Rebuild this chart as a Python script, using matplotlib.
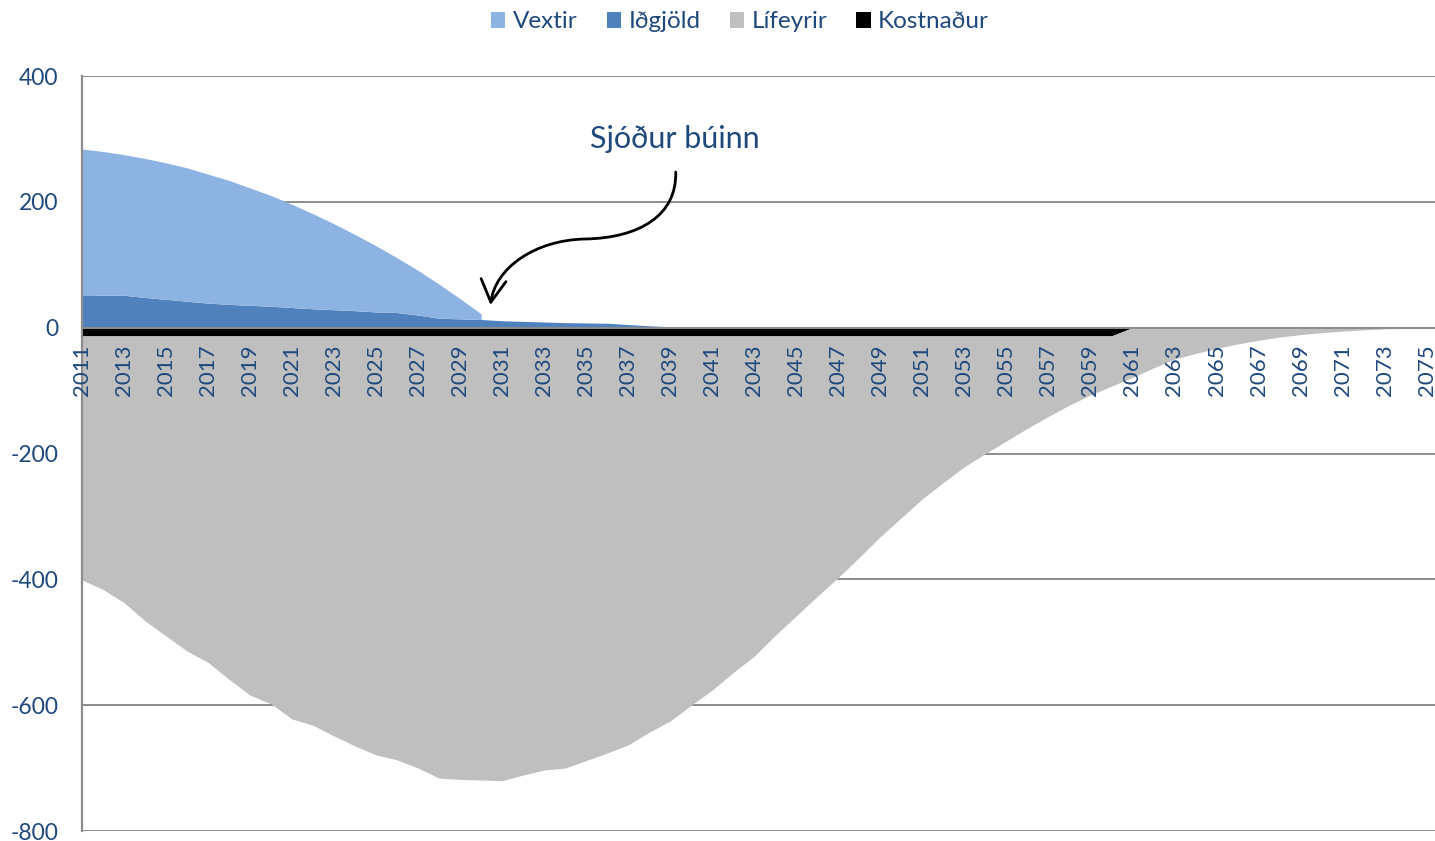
import matplotlib
matplotlib.use("Agg")
import matplotlib.pyplot as plt
from matplotlib.patches import Patch, FancyArrowPatch
from matplotlib.path import Path

plt.rcParams['font.family'] = ['Lato', 'DejaVu Sans']

# ---------------- data ----------------
years = list(range(2011, 2076))
years_vextir = list(range(2011, 2031))

vextir = [233, 228.5, 223.5, 221, 217, 212, 205, 197, 186.5, 176,
          164, 151, 136.5, 121, 105, 87, 71, 54, 32, 9]

idgjold = [51, 51.5, 51.5, 48, 45, 42, 39, 37, 35.5, 34,
           32, 30, 28.5, 27, 25, 24, 20, 15, 14, 13,
           11, 10, 9, 8, 7.5, 7, 5, 3, 1.5, 0.5,
           0, 0, 0, 0, 0, 0, 0, 0, 0, 0,
           0, 0, 0, 0, 0, 0, 0, 0, 0, 0,
           0, 0, 0, 0, 0, 0, 0, 0, 0, 0,
           0, 0, 0, 0, 0]

kostnadur = [-13] * 50 + [0] * 15

lifeyrir = [-388, -403, -424, -453, -477, -501, -519, -546, -571, -585,
            -609, -619, -636, -652, -666, -674, -687, -703, -705, -706,
            -707, -698, -690, -687, -675, -663, -650, -630, -612, -587,
            -563, -535, -509, -476, -445, -414, -384, -352, -319, -289,
            -259, -233, -208, -187, -167, -147, -128, -110, -94, -80,
            -79, -64, -50, -41, -33, -26, -20, -15, -11, -8,
            -5.5, -3.5, -2, -1, 0]

series_names = ["Vextir", "Iðgjöld", "Lífeyrir", "Kostnaður"]
colors = ["#8DB3E2", "#4F81BD", "#BFBFBF", "#000000"]
yticks = [-800, -600, -400, -200, 0, 200, 400]
xtick_years = list(range(2011, 2076, 2))
annotation_text = "Sjóður búinn"

text_color = "#1F497D"
grid_color = "#8C8C8C"

# ---------------- figure ----------------
W, H = 1435, 841
fig = plt.figure(figsize=(W / 100, H / 100), dpi=100)
L, R, T, B = 82, 1435, 76, 831
X0, X1 = 2011, 2075.4
ax = fig.add_axes([L / W, (H - B) / H, (R - L) / W, (B - T) / H])
ax.set_xlim(X0, X1)
ax.set_ylim(-800, 400)

def px2data(px, py):
    return (X0 + (px - L) / (R - L) * (X1 - X0), 400 - (py - T) / (B - T) * 1200)

# gridlines
for yv in yticks:
    ax.axhline(yv, color=grid_color, lw=1.4, zorder=0)

# positive stack
idg_vx = idgjold[:len(years_vextir)]
top_vx = [a + b for a, b in zip(idg_vx, vextir)]
ax.fill_between(years, 0, idgjold, color=colors[1], lw=0, zorder=1)
ax.fill_between(years_vextir, idg_vx, top_vx, color=colors[0], lw=0, zorder=1)

# negative stack
bottom_l = [k + l for k, l in zip(kostnadur, lifeyrir)]
ax.fill_between(years, 0, kostnadur, color=colors[3], lw=0, zorder=1)
ax.fill_between(years, kostnadur, bottom_l, color=colors[2], lw=0, zorder=1)

ax.axhline(0, color=grid_color, lw=1.4, zorder=2)

# spines / ticks
for s in ["top", "right", "bottom"]:
    ax.spines[s].set_visible(False)
ax.spines["left"].set_color(grid_color)
ax.spines["left"].set_linewidth(1.6)
ax.set_yticks(yticks)
ax.set_yticklabels([str(v) for v in yticks])
ax.tick_params(axis="y", length=0, pad=17, labelsize=16.5, labelcolor=text_color)
ax.set_xticks([])

# category labels along the zero line
for yr in xtick_years:
    ax.annotate(str(yr), xy=(yr, 0), xytext=(0, -17), textcoords="offset pixels",
                rotation=90, ha="center", va="top", fontsize=16,
                color=text_color, zorder=3)

# legend
handles = [Patch(facecolor=c, edgecolor="none") for c in colors]
leg = fig.legend(handles, series_names, loc="center",
                 bbox_to_anchor=(740 / W, 1 - 22 / H), bbox_transform=fig.transFigure,
                 ncol=4, frameon=False, fontsize=17.5, handlelength=0.6,
                 handleheight=0.6, handletextpad=0.3, columnspacing=1.2)
for t in leg.get_texts():
    t.set_color(text_color)

# annotation text
tx, ty = px2data(675, 139)
ax.text(tx, ty, annotation_text, ha="center", va="center", fontsize=22,
        color=text_color, zorder=4)

# curved arrow
pts = [(675.7, 172), (677, 215), (640, 238), (585, 239),
       (535, 240), (495, 268), (490.5, 305)]
verts = [px2data(*p) for p in pts]
codes = [Path.MOVETO, Path.CURVE4, Path.CURVE4, Path.CURVE4,
         Path.CURVE4, Path.CURVE4, Path.CURVE4]
arrow = FancyArrowPatch(path=Path(verts, codes),
                        arrowstyle="->,head_length=0.8,head_width=0.45",
                        mutation_scale=20, lw=2, color="black",
                        transform=ax.transData, zorder=5)
ax.add_patch(arrow)

fig.savefig("out.png", dpi=100)
